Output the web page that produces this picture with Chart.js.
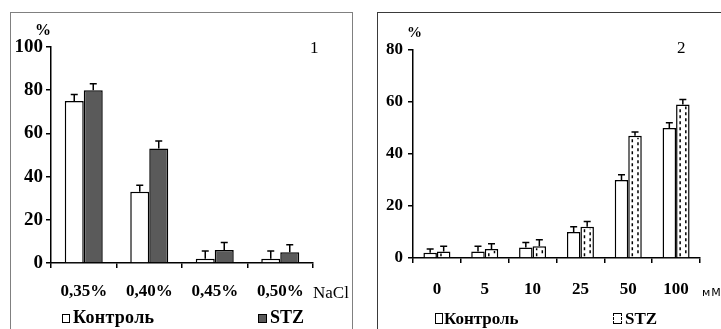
<!DOCTYPE html>
<html lang="ru">
<head>
<meta charset="UTF-8">
<title>Гемолиз</title>
<script src="https://cdn.jsdelivr.net/npm/chart.js@4"></script>
<style>
    * { margin: 0; padding: 0; }
    body { width: 721px; height: 329px; background: #fff; position: relative; overflow: hidden;
           font-family: 'Liberation Serif', 'Times New Roman', serif; color: #000; }
    .frame { position: absolute; top: 12px; height: 340px; }
    #frame1 { left: 10px; width: 341px; border: 1.5px solid #808080; }
    #frame2 { left: 377px; width: 400px; border: 1.5px solid #3a3a3a; }
    canvas { position: absolute; top: 0; }
    .txt { position: absolute; white-space: nowrap; line-height: 1; }
    .b { font-weight: bold; }
    .box { display: inline-block; border: 1.2px solid #000; vertical-align: baseline; margin-right: 3px; box-sizing: border-box; position: relative; }
</style>
</head>
<body>
<div class="frame" id="frame1"></div>
<div class="frame" id="frame2"></div>
<canvas id="c1" width="360" height="329" style="left:0"></canvas>
<canvas id="c2" width="361" height="329" style="left:360px"></canvas>

<div class="txt b" style="left:35px;top:22px;font-size:16px">%</div>
<div class="txt" style="left:310px;top:39px;font-size:17px">1</div>
<div class="txt" style="left:313px;top:284px;font-size:17px">NaCl</div>
<div class="txt b" style="left:62px;top:308px;font-size:18px;letter-spacing:0.3px"><span class="box" style="width:8px;height:9px;background:#fff"></span>Контроль</div>
<div class="txt b" style="left:258px;top:308px;font-size:18px"><span class="box" style="width:9px;height:9px;background:#5a5a5a"></span>STZ</div>

<div class="txt b" style="left:407px;top:25px;font-size:15px">%</div>
<div class="txt" style="left:677px;top:39px;font-size:17px">2</div>
<div class="txt" style="left:702px;top:287px;font-size:11px;font-family:'DejaVu Sans',sans-serif;letter-spacing:1px">мМ</div>
<div class="txt b" style="left:435px;top:310px;font-size:17px"><span class="box" style="width:8px;height:11px;background:#fff;margin-right:1px"></span>Контроль</div>
<div class="txt b" style="left:613px;top:310px;font-size:17px"><span class="box" style="width:9px;height:11px;background:#fff;margin-right:3px;border-left:1.2px dashed #000;border-right:1.2px dashed #000"></span>STZ</div>

<script>
    // панель 1 - NaCl
    const nacl = ['0,35%', '0,40%', '0,45%', '0,50%'];
    const kontrol1 = [75, 33, 2, 2];
    const kontrol1Err = [3, 3, 3.5, 3.5];
    const stz1 = [80, 53, 6, 5];
    const stz1Err = [3, 3.5, 3.5, 3.5];
    const yTicks1 = [0, 20, 40, 60, 80, 100];

    // панель 2 - глюкоза, мМ
    const gluc = ['0', '5', '10', '25', '50', '100'];
    const kontrol2 = [2, 2.5, 4, 10, 30, 50];
    const kontrol2Err = [1.5, 2, 2, 2, 2, 2];
    const stz2 = [2.5, 3.5, 4.5, 12, 47, 59];
    const stz2Err = [2, 2, 2.5, 2, 1.5, 2];
    const yTicks2 = [0, 20, 40, 60, 80];

    Chart.defaults.font.family = "'Liberation Serif', 'Times New Roman', serif";
    Chart.defaults.color = '#000';

    // усы погрешности (только вверх)
    const errorBars = {
        id: 'errorBars',
        afterDatasetsDraw(chart) {
            const ctx = chart.ctx;
            const y = chart.scales.y;
            chart.data.datasets.forEach((ds, i) => {
                if (!ds.errors) return;
                chart.getDatasetMeta(i).data.forEach((el, j) => {
                    const top = y.getPixelForValue(ds.data[j] + ds.errors[j]);
                    ctx.save();
                    ctx.strokeStyle = '#000';
                    ctx.lineWidth = 1.5;
                    ctx.beginPath();
                    ctx.moveTo(el.x, el.y);
                    ctx.lineTo(el.x, top);
                    ctx.moveTo(el.x - 3.5, top);
                    ctx.lineTo(el.x + 3.5, top);
                    ctx.stroke();
                    ctx.restore();
                });
            });
        }
    };

    // штриховка столбцов STZ на второй панели
    const dashFill = {
        id: 'dashFill',
        afterDatasetDraw(chart, args) {
            const ds = chart.data.datasets[args.index];
            if (!ds.dashed) return;
            const ctx = chart.ctx;
            args.meta.data.forEach(el => {
                const left = el.x - el.width / 2;
                ctx.save();
                ctx.strokeStyle = '#000';
                ctx.lineWidth = 1.5;
                ctx.setLineDash([3, 3]);
                [0.3, 0.72].forEach((f, k) => {
                    ctx.lineDashOffset = k * 3;
                    ctx.beginPath();
                    ctx.moveTo(left + el.width * f, el.base - 1);
                    ctx.lineTo(left + el.width * f, el.y + 2);
                    ctx.stroke();
                });
                ctx.restore();
            });
        }
    };

    function makeChart(id, labels, sets, ticks, opt) {
        return new Chart(document.getElementById(id), {
            type: 'bar',
            data: { labels: labels, datasets: sets },
            options: {
                responsive: false,
                animation: false,
                devicePixelRatio: 1,
                layout: { padding: opt.padding },
                plugins: { legend: { display: false }, tooltip: { enabled: false } },
                datasets: { bar: { barPercentage: 1, categoryPercentage: opt.cat, borderWidth: 1.5, borderColor: '#000', borderSkipped: 'bottom' } },
                scales: {
                    x: {
                        clip: false,
                        afterFit: s => { s.height = 50; },
                        grid: { drawOnChartArea: false, tickLength: 5, color: '#000', lineWidth: 1.5, offset: true },
                        border: { color: '#000', width: 1.5 },
                        ticks: { font: { size: 17, weight: 'bold' }, padding: opt.xPad, maxRotation: 0 }
                    },
                    y: {
                        clip: false,
                        min: 0,
                        max: ticks[ticks.length - 1],
                        afterFit: s => { s.width = opt.yWidth; },
                        afterBuildTicks: s => { s.ticks = ticks.map(v => ({ value: v })); },
                        grid: { drawOnChartArea: false, tickLength: 5, color: '#000', lineWidth: 1.5 },
                        border: { color: '#000', width: 1.5 },
                        ticks: { font: { size: opt.ySize, weight: 'bold' }, padding: opt.yPad }
                    }
                }
            },
            plugins: [errorBars, dashFill]
        });
    }

    makeChart('c1', nacl, [
        { label: 'Контроль', data: kontrol1, errors: kontrol1Err, backgroundColor: '#fff' },
        { label: 'STZ', data: stz1, errors: stz1Err, backgroundColor: '#5a5a5a' }
    ], yTicks1, { padding: { left: 10, right: 47, top: 47, bottom: 16 }, cat: 0.58, xPad: 13, yWidth: 41, ySize: 19, yPad: 3 });

    makeChart('c2', gluc, [
        { label: 'Контроль', data: kontrol2, errors: kontrol2Err, backgroundColor: '#fff' },
        { label: 'STZ', data: stz2, errors: stz2Err, backgroundColor: '#fff', dashed: true }
    ], yTicks2, { padding: { left: 20, right: 21, top: 50, bottom: 21 }, cat: 0.565, xPad: 16, yWidth: 33, ySize: 17, yPad: 5 });
</script>
</body>
</html>
